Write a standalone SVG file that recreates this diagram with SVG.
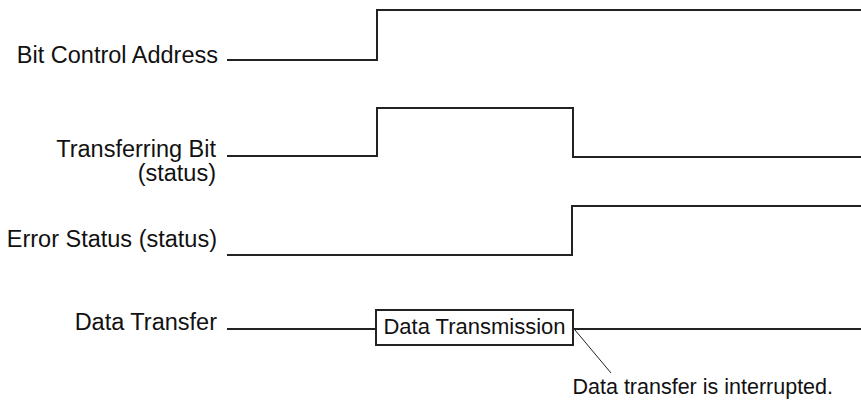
<svg xmlns="http://www.w3.org/2000/svg" width="861" height="404" viewBox="0 0 861 404">
<style>
.lbl{font-family:"Liberation Sans",Arial,sans-serif;font-size:22px;fill:#111;}
.big{font-size:23.5px;}
.end{text-anchor:end;}
.sig{fill:none;stroke:#222;stroke-width:2;stroke-linejoin:miter;}
.thin{fill:none;stroke:#222;stroke-width:1;}
</style>
<rect width="861" height="404" fill="#fff"/>
<g id="label-bit-control-address"><text class="lbl big end" x="218" y="62.5">Bit Control Address</text></g>
<g id="label-transferring-bit"><text class="lbl big end" x="216" y="157">Transferring Bit</text><text class="lbl big end" x="216" y="181">(status)</text></g>
<g id="label-error-status"><text class="lbl big end" x="217" y="246.5">Error Status (status)</text></g>
<g id="label-data-transfer"><text class="lbl big end" x="217" y="330">Data Transfer</text></g>
<g id="box-data-transmission"><rect x="376" y="310" width="197" height="35" fill="#fff" stroke="#222" stroke-width="2"/><text class="lbl" x="474.5" y="333.5" text-anchor="middle">Data Transmission</text></g>
<g id="note-interrupted"><text class="lbl" x="572.5" y="394" style="font-size:21.5px">Data transfer is interrupted.</text></g>
<g id="connectors">
<polyline class="sig" points="227,60 377,60 377,10 861,10"/>
<polyline class="sig" points="227,156 377,156 377,108 573,108 573,157 861,157"/>
<polyline class="sig" points="227,255 572,255 572,206 861,206"/>
<line class="sig" x1="227" y1="329" x2="376" y2="329"/>
<line class="sig" x1="573" y1="329" x2="861" y2="329"/>
<line class="thin" x1="575" y1="330" x2="611" y2="373"/>
</g>
</svg>
